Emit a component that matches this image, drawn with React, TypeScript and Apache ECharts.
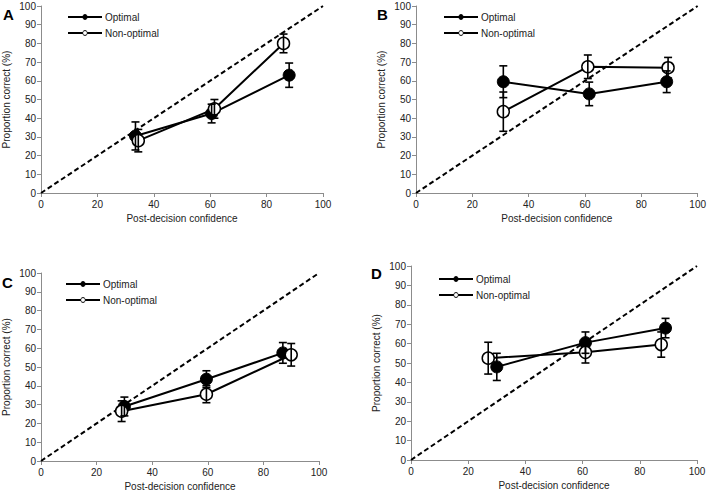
import React, { useEffect, useRef } from "react";
import * as echarts from "echarts";

// Panel data: x = post-decision confidence, y = proportion correct, err = SEM
const panelLetters = ["A", "B", "C", "D"];
const seriesNames = ["Optimal", "Non-optimal"];

const optX_A = [33.5, 60.5, 88];
const optY_A = [30.5, 42.5, 63];
const optErr_A = [7.5, 5, 6.5];
const nonX_A = [34.5, 61.5, 86];
const nonY_A = [28, 45, 80];
const nonErr_A = [6, 5, 5];

const optX_B = [31, 61.5, 89];
const optY_B = [59.5, 53, 59.5];
const optErr_B = [8.5, 6.3, 5.8];
const nonX_B = [31, 61, 89.5];
const nonY_B = [43.5, 67.5, 67];
const nonErr_B = [10.5, 6.3, 5.5];

const optX_C = [30, 59.5, 87];
const optY_C = [29, 43.5, 57.5];
const optErr_C = [5, 4.5, 5.5];
const nonX_C = [29, 59.5, 90];
const nonY_C = [26.5, 35.5, 56.5];
const nonErr_C = [5.5, 4.5, 6];

const optX_D = [30, 61, 89];
const optY_D = [48, 60.5, 68];
const optErr_D = [7, 5.5, 5];
const nonX_D = [27, 61, 87.5];
const nonY_D = [52.5, 55.5, 59.5];
const nonErr_D = [8.2, 5.5, 6.5];

const diagonal = [
  [0, 0],
  [100, 100],
];

const FONT = "Liberation Sans";

const panels = [
  { opt: [optX_A, optY_A, optErr_A], non: [nonX_A, nonY_A, nonErr_A] },
  { opt: [optX_B, optY_B, optErr_B], non: [nonX_B, nonY_B, nonErr_B] },
  { opt: [optX_C, optY_C, optErr_C], non: [nonX_C, nonY_C, nonErr_C] },
  { opt: [optX_D, optY_D, optErr_D], non: [nonX_D, nonY_D, nonErr_D] },
];

// layout
const grids = [
  { left: 41, top: 6, width: 282, height: 187 },
  { left: 416, top: 6, width: 284, height: 187 },
  { left: 40, top: 273, width: 279, height: 188 },
  { left: 411, top: 266, width: 286, height: 194 },
];
const legendPos = [
  { left: 67, top: 11 },
  { left: 443, top: 11 },
  { left: 65, top: 278 },
  { left: 438, top: 273 },
];
const letterPos = [
  { x: 3, y: 7 },
  { x: 377, y: 7 },
  { x: 2, y: 275 },
  { x: 371, y: 266 },
];

function pts(xs: number[], ys: number[]) {
  return xs.map((x, i) => [x, ys[i]]);
}
function errPts(xs: number[], ys: number[], es: number[]) {
  return xs.map((x, i) => [x, ys[i] - es[i], ys[i] + es[i]]);
}

const errRender = (params: any, api: any) => {
  const x = api.value(0);
  const lo = api.coord([x, api.value(1)]);
  const hi = api.coord([x, api.value(2)]);
  const hw = 4;
  const style = { stroke: "#000", lineWidth: 1.6 };
  return {
    type: "group",
    children: [
      { type: "line", shape: { x1: lo[0], y1: lo[1], x2: hi[0], y2: hi[1] }, style },
      { type: "line", shape: { x1: hi[0] - hw, y1: hi[1], x2: hi[0] + hw, y2: hi[1] }, style },
      { type: "line", shape: { x1: lo[0] - hw, y1: lo[1], x2: lo[0] + hw, y2: lo[1] }, style },
    ],
  };
};

export default function App() {
  const ref = useRef<HTMLDivElement>(null);
  useEffect(() => {
    if (!ref.current) return;
    const chart = echarts.init(ref.current, null, { renderer: "svg" });

    const axisCommon = {
      axisLine: { lineStyle: { color: "#8c8c8c", width: 1 } },
      axisTick: { show: true, length: 4, lineStyle: { color: "#8c8c8c" } },
      splitLine: { show: false },
      axisLabel: { color: "#222", fontSize: 10, fontFamily: FONT },
      nameTextStyle: { color: "#222", fontSize: 10, fontFamily: FONT },
    };

    const xAxis = grids.map((_, i) => ({
      ...axisCommon,
      type: "value",
      gridIndex: i,
      min: 0,
      max: 100,
      interval: 20,
      name: "Post-decision confidence",
      nameLocation: "middle",
      nameGap: 20,
      axisLabel: { ...axisCommon.axisLabel, margin: 6 },
    }));
    const yAxis = grids.map((_, i) => ({
      ...axisCommon,
      type: "value",
      gridIndex: i,
      min: 0,
      max: 100,
      interval: 10,
      name: "Proportion correct (%)",
      nameLocation: "middle",
      nameRotate: 90,
      nameGap: 30,
      axisLabel: { ...axisCommon.axisLabel, margin: 5 },
    }));

    const series: any[] = [];
    panels.forEach((p, i) => {
      series.push({
        type: "line",
        name: "diag",
        xAxisIndex: i,
        yAxisIndex: i,
        data: diagonal,
        symbol: "none",
        lineStyle: { color: "#000", width: 2, type: [5, 3] },
        z: 1,
      });
      series.push({
        type: "line",
        name: "Optimal",
        xAxisIndex: i,
        yAxisIndex: i,
        data: pts(p.opt[0], p.opt[1]),
        symbol: "circle",
        symbolSize: 12,
        lineStyle: { color: "#000", width: 2 },
        itemStyle: { color: "#000", borderColor: "#000", borderWidth: 1 },
        z: 3,
      });
      series.push({
        type: "line",
        name: "Non-optimal",
        xAxisIndex: i,
        yAxisIndex: i,
        data: pts(p.non[0], p.non[1]),
        symbol: "circle",
        symbolSize: 12,
        lineStyle: { color: "#000", width: 2 },
        itemStyle: { color: "#fff", borderColor: "#000", borderWidth: 1.5 },
        z: 3,
      });
      series.push({
        type: "custom",
        name: "errOpt",
        xAxisIndex: i,
        yAxisIndex: i,
        data: errPts(p.opt[0], p.opt[1], p.opt[2]),
        renderItem: errRender,
        z: 4,
      });
      series.push({
        type: "custom",
        name: "errNon",
        xAxisIndex: i,
        yAxisIndex: i,
        data: errPts(p.non[0], p.non[1], p.non[2]),
        renderItem: errRender,
        z: 4,
      });
    });

    const legend = legendPos.map((pos) => ({
      ...pos,
      orient: "vertical",
      data: seriesNames,
      itemWidth: 34,
      itemHeight: 6,
      itemGap: 4,
      selectedMode: false,
      itemStyle: { borderWidth: 1 },
      textStyle: { color: "#222", fontSize: 10, fontFamily: FONT, padding: [0, 0, 0, -2], lineHeight: 12 },
      padding: 0,
    }));

    const graphic = panelLetters.map((l, i) => ({
      type: "text",
      x: letterPos[i].x,
      y: letterPos[i].y,
      style: {
        text: l,
        fontSize: 15,
        fontWeight: "bold",
        fontFamily: FONT,
        fill: "#000",
      },
    }));

    chart.setOption({
      animation: false,
      backgroundColor: "#fff",
      textStyle: { fontFamily: FONT },
      grid: grids,
      xAxis,
      yAxis,
      series,
      legend,
      graphic,
    });
    return () => chart.dispose();
  }, []);
  return (
    <div
      ref={ref}
      style={{ position: "fixed", left: 0, top: 0, width: 709, height: 493 }}
    />
  );
}
